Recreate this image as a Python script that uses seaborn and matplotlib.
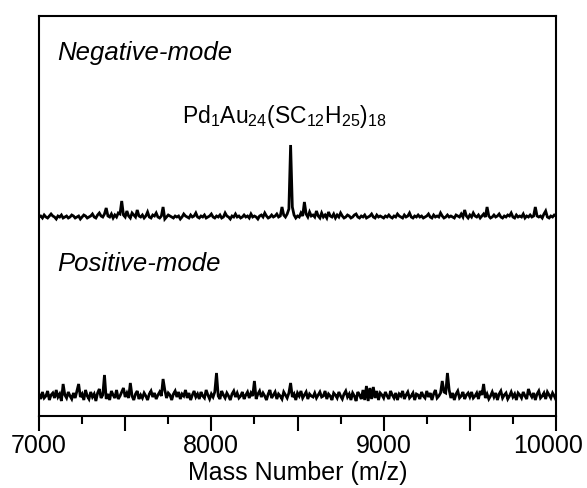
import numpy as np
import pandas as pd
import matplotlib
matplotlib.use("Agg")
import matplotlib.pyplot as plt
import matplotlib.transforms as mtransforms
from matplotlib.ticker import MultipleLocator, FuncFormatter
import seaborn as sns

# m/z axis (step 10)
mz = list(range(7000, 10001, 10))

# Negative-mode intensity above baseline (arbitrary units)
neg_intensity = [
    0, 1, -1, 2, 0, -1, 1, 3, 1, 0, -2, 1, 0, 2, -1, 0, 1, -1, 0, 2,
    1, -1, 0, 1, -2, 0, 2, 1, -1, 0, 1, 3, 0, -1, 2, 4, 1, 0, 3, 9,
    1, 0, 3, -1, 2, 0, 4, 3, 16, 2, 0, 6, 1, -1, 4, 2, 0, 7, 1, 0,
    2, -1, 1, 5, 0, -1, 2, 1, 4, 0, -1, 1, 10, -2, 0, 2, 1, 0, -1, 1,
    0, 1, -2, 0, 3, 1, 0, -1, 2, 0, 1, 4, 0, -1, 1, 0, 2, -1, 0, 1,
    3, 0, -1, 1, 0, 2, -1, 0, 4, 1, 0, -2, 1, 0, 3, 0, 1, -1, 0, 2,
    0, 1, -1, 3, 0, 1, 0, -2, 1, 2, 0, 4, 1, -1, 0, 2, 0, 1, 3, 0,
    1, 10, 2, 0, 3, 8, 72, 10, 2, -1, 1, 0, 4, 1, 15, 3, 0, 5, 1, 2,
    0, 6, 1, -1, 4, 0, 2, -1, 5, 1, 0, 3, -1, 2, 0, 4, 1, -1, 0, 2,
    1, -1, 0, 2, 3, 0, -1, 1, 0, 2, -1, 0, 1, 3, 0, -1, 2, 0, 1, 0,
    -1, 1, 0, 2, 0, -1, 1, 0, 3, 1, 0, -1, 2, 0, 1, 4, 0, -1, 1, 0,
    2, 0, 1, -1, 0, 1, 3, 0, -1, 2, 0, 1, 0, 4, 1, -1, 0, 2, 0, 1,
    0, -1, 2, 1, 0, 3, 0, 7, 1, -1, 2, 0, 4, 1, 0, 2, -1, 1, 3, 0,
    10, 1, -1, 0, 2, 0, 1, 3, 0, -1, 1, 0, 2, 1, 4, 0, -1, 2, 0, 1,
    0, 3, -1, 1, 0, 2, 0, 1, 10, 1, 0, 1, -1, 3, 6, 0, -1, 1, 0, 2,
    1,
]

# Positive-mode intensity above baseline (arbitrary units)
pos_intensity = [
    2, -3, 4, -2, 0, 5, -4, 1, 3, -2, 6, -1, 2, -5, 12, 1, -2, 4, 0, -3,
    3, -2, 5, 12, -1, 2, -4, 6, 0, -3, 4, -1, 2, -5, 3, 7, -2, 1, 21, -3,
    2, -4, 5, 1, -2, 6, -3, 0, 4, 8, -1, 3, -2, 13, 0, -4, 2, 5, -3, 1,
    -2, 3, 0, -4, 2, 5, -1, 3, -3, 1, 4, 0, 17, 6, -2, 3, 1, -4, 2, 5,
    -1, 4, -3, 2, 0, 6, -2, 3, -4, 1, 5, -1, 2, -3, 4, 0, -2, 6, 1, -3,
    2, -1, 4, 23, 0, -3, 5, 1, -2, 3, 0, -4, 2, 5, -1, 3, -2, 0, 4, -3,
    1, 4, -2, 3, 0, 15, -3, 2, 5, -1, 3, 0, -4, 2, 6, -2, 1, 4, -3, 2,
    0, -3, 4, 1, -2, 3, 13, -1, 2, -4, 3, 0, 5, -2, 1, 4, -3, 2, 0, -1,
    3, -2, 1, 4, -1, 0, 5, -3, 2, 0, -4, 3, 1, -2, 4, 0, -3, 2, 5, -1,
    2, -4, 3, 0, -5, 4, 1, -3, 6, -4, 10, -5, 8, -3, 9, -2, 5, -4, 3, 1,
    -2, 4, 0, -3, 5, 1, -2, 3, -4, 2, 0, 5, -3, 1, 4, -2, 0, 3, -4, 2,
    1, -3, 4, 0, -2, 5, -1, 3, -4, 2, 6, -2, 0, 3, 15, 4, 3, 23, 6, -2,
    3, -4, 2, 5, -2, 0, 4, -3, 1, 3, -1, 4, -2, 0, 3, -3, 5, 1, 12, -2,
    2, -3, 0, 4, -1, 3, -4, 2, 5, -2, 1, 3, -3, 0, 4, -1, 2, -4, 3, 1,
    -2, 4, 0, -3, 7, 2, -1, 3, -4, 2, 5, -2, 0, 3, -3, 4, 1, -2, 3, 0,
    -4,
]

mode_labels = ["Negative-mode", "Positive-mode"]
peak_label = r"$\mathregular{Pd_1Au_{24}(SC_{12}H_{25})_{18}}$"
x_label = "Mass Number (m/z)"

sns.set_style("ticks")
plt.rcParams["font.family"] = ["Liberation Sans", "DejaVu Sans"]
plt.rcParams["mathtext.fontset"] = "custom"
plt.rcParams["mathtext.rm"] = "Liberation Sans"
plt.rcParams["mathtext.it"] = "Liberation Sans:italic"
plt.rcParams["text.color"] = "black"
plt.rcParams["axes.labelcolor"] = "black"
plt.rcParams["xtick.color"] = "black"

NEG_OFFSET = 199
POS_OFFSET = 20

df = pd.DataFrame({
    "mz": mz + mz,
    "y": [v + NEG_OFFSET for v in neg_intensity] + [v + POS_OFFSET for v in pos_intensity],
    "mode": ["neg"] * len(mz) + ["pos"] * len(mz),
})

fig = plt.figure(figsize=(5.87, 4.88), dpi=100)
ax = fig.add_axes([39 / 587, 1 - 416 / 488, (556 - 39) / 587, (416 - 16) / 488])

sns.lineplot(data=df, x="mz", y="y", units="mode", estimator=None, sort=False,
             color="black", linewidth=2.0, ax=ax)
for ln in ax.get_lines():
    ln.set_solid_joinstyle("miter")

ax.set_xlim(7000, 10000)
ax.set_ylim(0, 400)
ax.set_yticks([])
ax.set_ylabel("")
ax.set_xlabel(x_label, fontsize=18, labelpad=2, color="black")

ax.xaxis.set_major_locator(MultipleLocator(500))
ax.xaxis.set_minor_locator(MultipleLocator(250))
ax.xaxis.set_major_formatter(FuncFormatter(lambda v, p: f"{int(v)}" if int(v) % 1000 == 0 else ""))
ax.tick_params(axis="x", which="major", direction="out", length=11, width=1.5,
               labelsize=18, pad=2, colors="black")
ax.tick_params(axis="x", which="minor", direction="out", length=6, width=1.5, colors="black")
for s in ax.spines.values():
    s.set_visible(True)
    s.set_linewidth(1.5)
    s.set_color("black")

fig.canvas.draw()
for lbl in ax.get_xticklabels():
    if lbl.get_text() == "10000":
        lbl.set_transform(lbl.get_transform() +
                          mtransforms.ScaledTranslation(-8 / 100, 0, fig.dpi_scale_trans))

ax.text(7105, 363, mode_labels[0], fontsize=18.5, style="italic", va="center", ha="left")
ax.text(7105, 152, mode_labels[1], fontsize=18.5, style="italic", va="center", ha="left")
ax.text(8425, 299, peak_label, fontsize=16.5, va="center", ha="center")

fig.savefig("out.png", dpi=100)
